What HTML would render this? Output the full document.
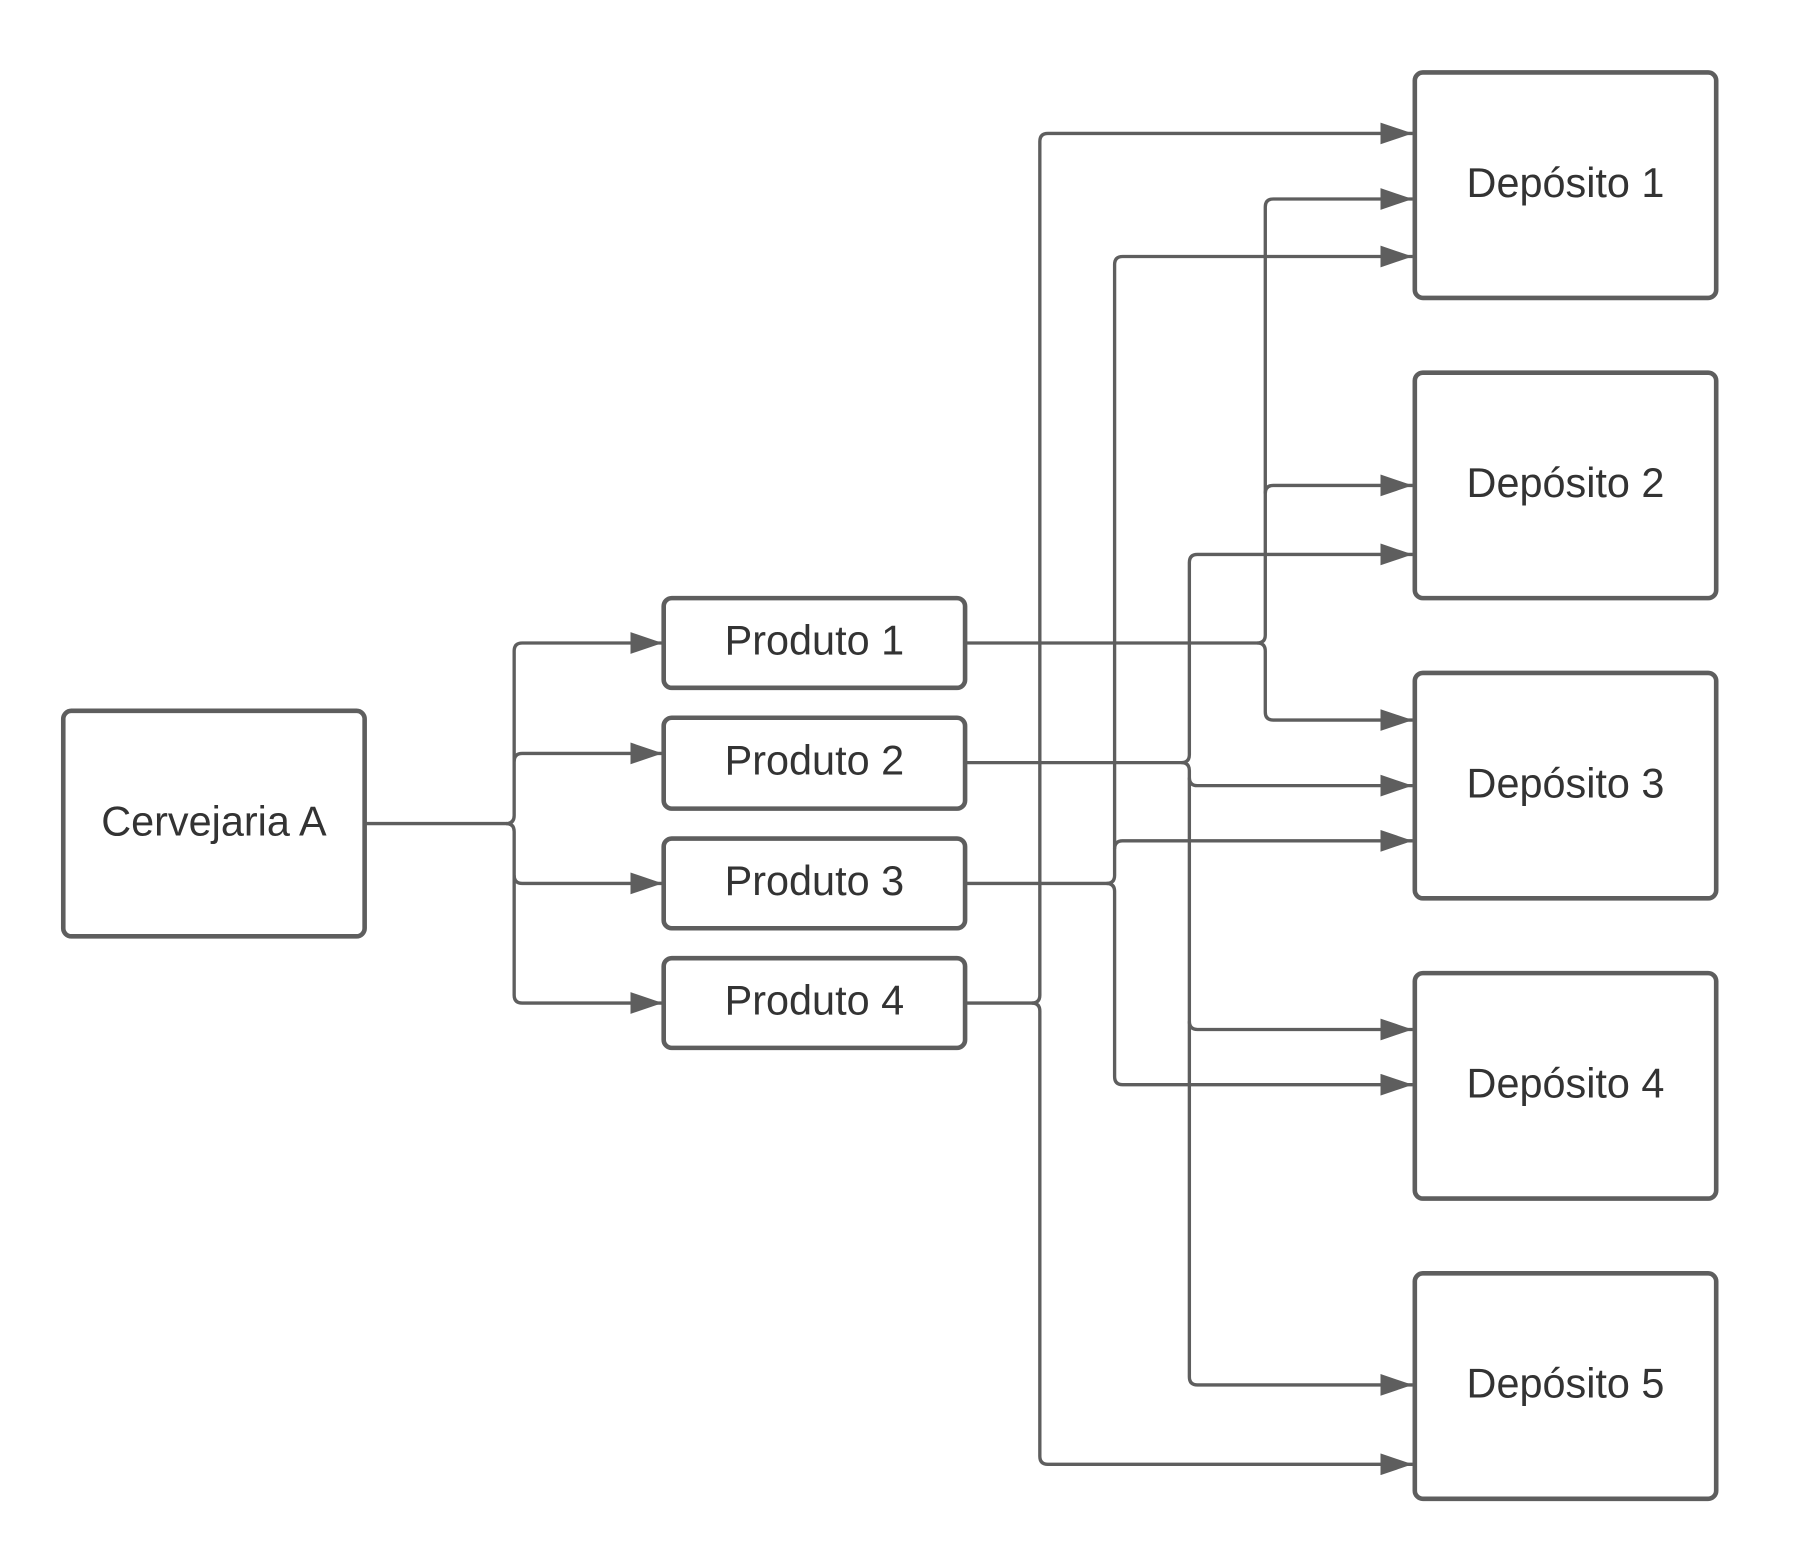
<!DOCTYPE html>
<html><head><meta charset="utf-8"><style>
html,body{margin:0;padding:0;background:#fff;width:1802px;height:1554px;overflow:hidden}
svg{display:block}
text{font-family:"Liberation Sans",Arial,sans-serif;font-size:36px;fill:#333;text-anchor:middle;dominant-baseline:central}
</style></head><body>
<svg width="1802" height="1554" viewBox="0 0 1566.6 1351" preserveAspectRatio="none" xmlns="http://www.w3.org/2000/svg">
<defs>
<marker id="a" markerWidth="28" markerHeight="19" refX="28" refY="9.5" orient="auto" markerUnits="userSpaceOnUse">
<path d="M0,0 L28,9.5 L0,19 Z" fill="#5e5e5e"/>
</marker>
</defs>
<g fill="none" stroke="#5e5e5e" stroke-width="2.9" stroke-linejoin="round">
<path d="M317,716 H440 Q447,716 447,709 V566 Q447,559 454,559 H576" marker-end="url(#a)"/>
<path d="M447,662 Q447,655 454,655 H576" marker-end="url(#a)"/>
<path d="M440,716 Q447,716 447,723 V761 Q447,768 454,768 H576" marker-end="url(#a)"/>
<path d="M447,761 V865 Q447,872 454,872 H576" marker-end="url(#a)"/>
<path d="M839,559 H1093 Q1100,559 1100,552 V180 Q1100,173 1107,173 H1228" marker-end="url(#a)"/>
<path d="M1100,429 Q1100,422 1107,422 H1228" marker-end="url(#a)"/>
<path d="M1093,559 Q1100,559 1100,566 V619 Q1100,626 1107,626 H1228" marker-end="url(#a)"/>
<path d="M839,663 H1027 Q1034,663 1034,656 V489 Q1034,482 1041,482 H1228" marker-end="url(#a)"/>
<path d="M1027,663 Q1034,663 1034,670 V676 Q1034,683 1041,683 H1228" marker-end="url(#a)"/>
<path d="M1034,676 V888 Q1034,895 1041,895 H1228" marker-end="url(#a)"/>
<path d="M1034,888 V1197 Q1034,1204 1041,1204 H1228" marker-end="url(#a)"/>
<path d="M839,768 H962 Q969,768 969,761 V230 Q969,223 976,223 H1228" marker-end="url(#a)"/>
<path d="M969,738 Q969,731 976,731 H1228" marker-end="url(#a)"/>
<path d="M962,768 Q969,768 969,775 V936 Q969,943 976,943 H1228" marker-end="url(#a)"/>
<path d="M839,872 H897 Q904,872 904,865 V123 Q904,116 911,116 H1228" marker-end="url(#a)"/>
<path d="M897,872 Q904,872 904,879 V1266 Q904,1273 911,1273 H1228" marker-end="url(#a)"/>
</g>
<g fill="#fff" stroke="#5e5e5e" stroke-width="4">
<rect x="55" y="618" width="262" height="196" rx="7"/>
<rect x="577" y="520" width="262" height="78" rx="7"/>
<rect x="577" y="624" width="262" height="79" rx="7"/>
<rect x="577" y="729" width="262" height="78" rx="7"/>
<rect x="577" y="833" width="262" height="78" rx="7"/>
<rect x="1230" y="63" width="262" height="196" rx="7"/>
<rect x="1230" y="324" width="262" height="196" rx="7"/>
<rect x="1230" y="585" width="262" height="196" rx="7"/>
<rect x="1230" y="846" width="262" height="196" rx="7"/>
<rect x="1230" y="1107" width="262" height="196" rx="7"/>
</g>
<text x="186" y="714">Cervejaria A</text>
<text x="708" y="557">Produto 1</text>
<text x="708" y="661">Produto 2</text>
<text x="708" y="766">Produto 3</text>
<text x="708" y="870">Produto 4</text>
<text x="1361" y="159">Depósito 1</text>
<text x="1361" y="420">Depósito 2</text>
<text x="1361" y="681">Depósito 3</text>
<text x="1361" y="942">Depósito 4</text>
<text x="1361" y="1203">Depósito 5</text>
</svg>
</body></html>
